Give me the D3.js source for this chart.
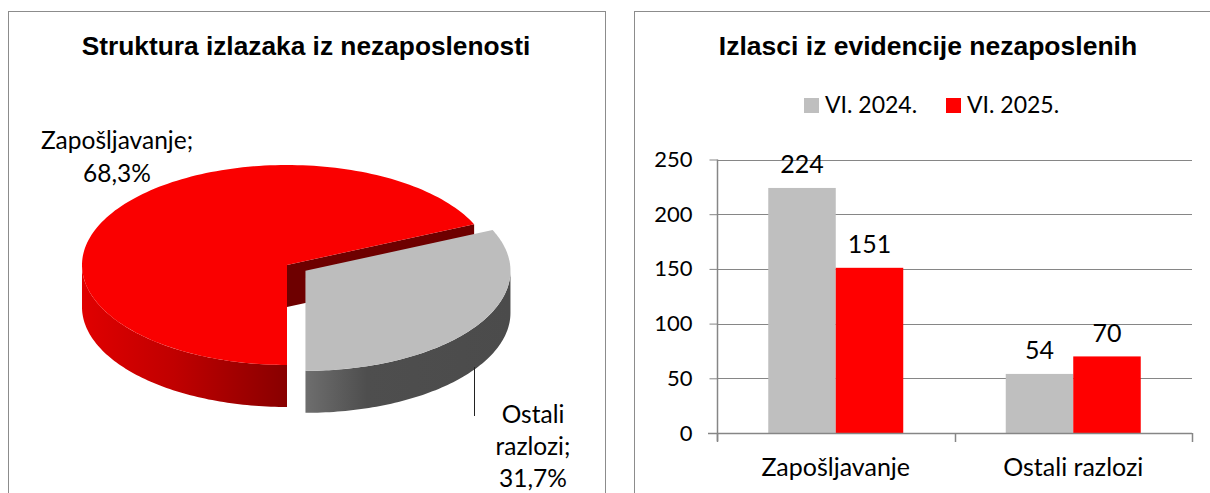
<!DOCTYPE html>
<html><head><meta charset="utf-8">
<script src="https://cdn.jsdelivr.net/npm/d3@7"></script>
<style>
html,body{margin:0;padding:0;background:#fff;}
svg{display:block;}
</style></head>
<body>
<svg id="chart" width="1210" height="493"></svg>
<script>
// ---- data ----
const pieCategories = ["Zapošljavanje", "Ostali razlozi"];
const pieShares = [68.3, 31.7];
const barCategories = ["Zapošljavanje", "Ostali razlozi"];
const seriesNames = ["VI. 2024.", "VI. 2025."];
const series2024 = [224, 54];
const series2025 = [151, 70];
const yTicks = [0, 50, 100, 150, 200, 250];
const leftTitle = "Struktura izlazaka iz nezaposlenosti";
const rightTitle = "Izlasci iz evidencije nezaposlenih";

const svg = d3.select("#chart");
const FONT = "Lato, 'Open Sans', sans-serif";
const TFONT = "'Liberation Sans', Arial, sans-serif";

// panel borders
svg.append("rect").attr("x", 8.5).attr("y", 11.5).attr("width", 597).attr("height", 520)
  .attr("fill", "none").attr("stroke", "#8c8c8c").attr("stroke-width", 1);
svg.append("rect").attr("x", 634.5).attr("y", 11.5).attr("width", 620).attr("height", 520)
  .attr("fill", "none").attr("stroke", "#8c8c8c").attr("stroke-width", 1);

// titles
svg.append("text").attr("x", 306).attr("y", 55).attr("text-anchor", "middle")
  .attr("font-family", TFONT).attr("font-weight", "bold").attr("font-size", 26.3).text(leftTitle);
svg.append("text").attr("x", 928).attr("y", 55).attr("text-anchor", "middle")
  .attr("font-family", TFONT).attr("font-weight", "bold").attr("font-size", 26.5).text(rightTitle);

// ---------------- 3D pie ----------------
const defs = svg.append("defs");
const gRed = defs.append("linearGradient").attr("id", "redWall");
gRed.append("stop").attr("offset", "0%").attr("stop-color", "#e00000");
gRed.append("stop").attr("offset", "45%").attr("stop-color", "#c00000");
gRed.append("stop").attr("offset", "100%").attr("stop-color", "#880000");
const gGray = defs.append("linearGradient").attr("id", "grayWall");
gGray.append("stop").attr("offset", "0%").attr("stop-color", "#6e6e6e");
gGray.append("stop").attr("offset", "30%").attr("stop-color", "#4e4e4e");
gGray.append("stop").attr("offset", "100%").attr("stop-color", "#4b4b4b");

const cx = 287, cy = 265, rx = 205, ry = 100, depth = 42, explode = [0, 22];
const topColors = ["#fa0000", "#bdbdbd"];
const wallFills = ["url(#redWall)", "url(#grayWall)"];
const cutColors = ["#6e0000", "#3a3a3a"];

const pie = d3.pie().sort(null).startAngle(Math.PI).endAngle(3 * Math.PI);
const arcs = pie(pieShares);

function pt(a, ox, oy, dz) {
  return [cx + ox + rx * Math.sin(a), cy + oy - ry * Math.cos(a) + (dz || 0)];
}
const line = d3.line();
function sample(a0, a1, n) {
  const out = [];
  for (let i = 0; i <= n; i++) out.push(a0 + (a1 - a0) * i / n);
  return out;
}

const pieG = svg.append("g");
const layers = arcs.map((d, i) => {
  const mid = (d.startAngle + d.endAngle) / 2;
  const ox = explode[i] * Math.sin(mid);
  const oy = -explode[i] * Math.cos(mid) * ry / rx;
  return {d, i, ox, oy};
});

layers.forEach(({d, i, ox, oy}) => {
  const g = pieG.append("g");
  const c = [cx + ox, cy + oy];
  const e = pt(d.endAngle, ox, oy);
  const endVisible = ((d.endAngle % (2 * Math.PI)) < Math.PI) && ((d.endAngle % (2 * Math.PI)) > 0);
  if (endVisible) {
    g.append("path").attr("d", line([c, e, [e[0], e[1] + depth], [c[0], c[1] + depth]]) + "Z")
      .attr("fill", cutColors[i]);
  }
  [0, 2 * Math.PI].forEach(off => {
    const lo = Math.max(d.startAngle, Math.PI / 2 + off);
    const hi = Math.min(d.endAngle, 3 * Math.PI / 2 + off);
    if (hi > lo) {
      const as = sample(lo, hi, 80);
      const top = as.map(a => pt(a, ox, oy));
      const bot = as.slice().reverse().map(a => pt(a, ox, oy, depth));
      g.append("path").attr("d", line(top.concat(bot)) + "Z").attr("fill", wallFills[i]);
    }
  });
  const as = sample(d.startAngle, d.endAngle, 160);
  g.append("path").attr("d", line([c].concat(as.map(a => pt(a, ox, oy)))) + "Z")
    .attr("fill", topColors[i]);
});

// pie labels
const fmt = v => d3.format(".1f")(v).replace(".", ",") + "%";
const pieLbl = svg.append("g").attr("font-family", FONT).attr("font-size", 24.5).attr("fill", "#000")
  .attr("text-anchor", "middle");
pieLbl.append("text").attr("x", 117).attr("y", 149).text(pieCategories[0] + ";");
pieLbl.append("text").attr("x", 117).attr("y", 182).text(fmt(pieShares[0]));
const oWords = pieCategories[1].split(" ");
pieLbl.append("text").attr("x", 533).attr("y", 423).text(oWords[0]);
pieLbl.append("text").attr("x", 533).attr("y", 455).text(oWords[1] + ";");
pieLbl.append("text").attr("x", 533).attr("y", 487).text(fmt(pieShares[1]));
svg.append("line").attr("x1", 474.5).attr("x2", 474.5).attr("y1", 367).attr("y2", 416)
  .attr("stroke", "#222").attr("stroke-width", 1);

// ---------------- bar chart ----------------
const x0 = d3.scaleBand().domain(barCategories).range([717, 1192])
  .paddingInner(0.4316).paddingOuter(0.2158);
const x1 = d3.scaleBand().domain(seriesNames).range([0, x0.bandwidth()]);
const y = d3.scaleLinear().domain([0, 250]).range([433, 159.5]);
const barColors = ["#bfbfbf", "#ff0000"];
const seriesVals = [series2024, series2025];

const bg = svg.append("g");
bg.selectAll("line.grid").data(yTicks.filter(t => t > 0)).join("line")
  .attr("x1", 717).attr("x2", 1192)
  .attr("y1", d => Math.round(y(d)) + 0.5).attr("y2", d => Math.round(y(d)) + 0.5)
  .attr("stroke", "#868686").attr("stroke-width", 1);

seriesNames.forEach((s, si) => {
  bg.selectAll(null).data(barCategories).join("rect")
    .attr("x", c => x0(c) + x1(s)).attr("width", x1.bandwidth())
    .attr("y", (c, ci) => y(seriesVals[si][ci]))
    .attr("height", (c, ci) => y(0) - y(seriesVals[si][ci]))
    .attr("fill", barColors[si]);
  bg.selectAll(null).data(barCategories).join("text")
    .attr("x", c => x0(c) + x1(s) + x1.bandwidth() / 2)
    .attr("y", (c, ci) => y(seriesVals[si][ci]) - 14.5)
    .attr("text-anchor", "middle").attr("font-family", FONT).attr("font-size", 25)
    .text((c, ci) => seriesVals[si][ci]);
});

const yAxis = d3.axisLeft(y).tickValues(yTicks).tickSize(8).tickPadding(17);
const yg = bg.append("g").attr("transform", "translate(717.5,0)").call(yAxis);
yg.select(".domain").attr("d", `M0,${y(250)}V${y(0) + 8}`).attr("stroke", "#868686").attr("stroke-width", 1.5);
yg.selectAll(".tick line").attr("stroke", "#868686");
yg.selectAll(".tick text").attr("font-family", FONT).attr("font-size", 22).attr("fill", "#000");

const xg = bg.append("g");
xg.append("line").attr("x1", 708).attr("x2", 1192).attr("y1", 433.5).attr("y2", 433.5)
  .attr("stroke", "#868686").attr("stroke-width", 1.5);
const bounds = d3.range(barCategories.length + 1).map(i => x0.range()[0] + i * x0.step());
xg.selectAll("line.xt").data(bounds).join("line")
  .attr("x1", d => Math.round(d) + 0.5).attr("x2", d => Math.round(d) + 0.5)
  .attr("y1", 433).attr("y2", 442).attr("stroke", "#868686").attr("stroke-width", 1.5);
xg.selectAll("text").data(barCategories).join("text")
  .attr("x", c => x0(c) + x0.bandwidth() / 2).attr("y", 476)
  .attr("text-anchor", "middle").attr("font-family", FONT).attr("font-size", 25)
  .text(c => c);

const lg = svg.append("g");
const legX = [804, 946];
seriesNames.forEach((s, i) => {
  lg.append("rect").attr("x", legX[i]).attr("y", 98).attr("width", 15).attr("height", 15).attr("fill", barColors[i]);
  lg.append("text").attr("x", legX[i] + 21).attr("y", 113).attr("font-family", FONT).attr("font-size", 23).text(s);
});
</script>
</body></html>
